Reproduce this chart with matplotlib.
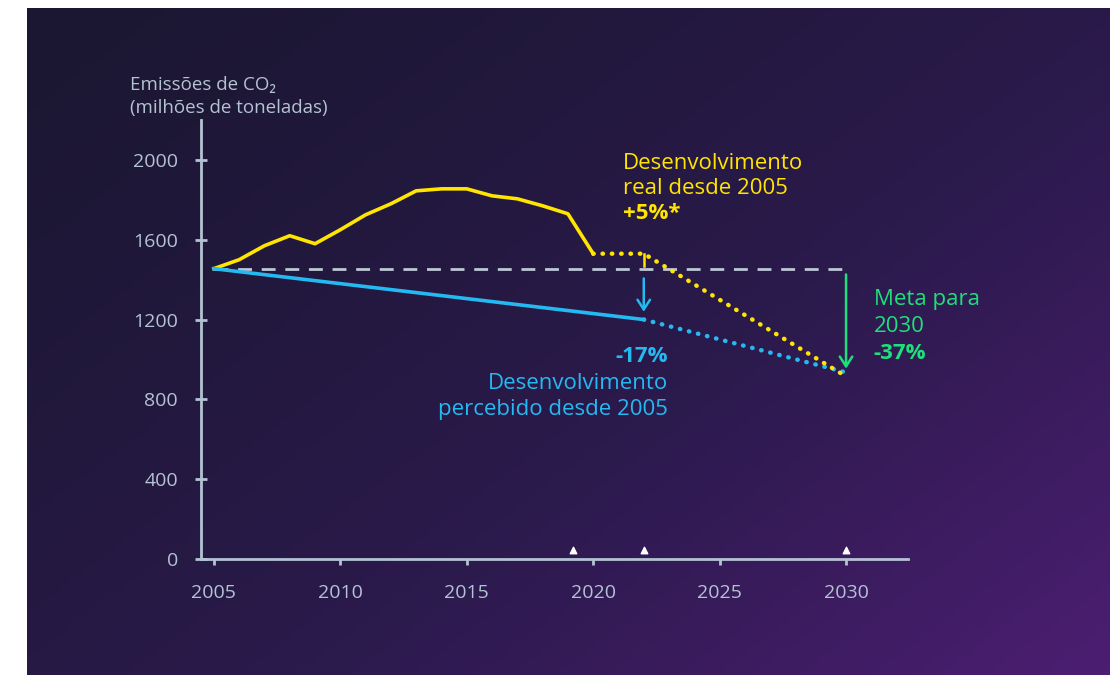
import numpy as np
import matplotlib.pyplot as plt
from matplotlib.colors import LinearSegmentedColormap

# data
years_real = [2005, 2006, 2007, 2008, 2009, 2010, 2011, 2012, 2013, 2014,
              2015, 2016, 2017, 2018, 2019, 2020]
real = [1455, 1500, 1570, 1620, 1580, 1650, 1725, 1780, 1845, 1855,
        1855, 1820, 1805, 1770, 1730, 1530]
real_proj_x = [2020, 2022, 2030]
real_proj = [1530, 1530, 915]

perc_x = [2005, 2022]
perc = [1455, 1200]
perc_proj_x = [2022, 2030]
perc_proj = [1200, 935]

base_x = [2005, 2030]
base = [1455, 1455]

marker_years = [2019.2, 2022, 2030]
yticks = [0, 400, 800, 1200, 1600, 2000]
xticks = [2005, 2010, 2015, 2020, 2025, 2030]

YEL = "#ffe500"
BLUE = "#25b9f2"
GREEN = "#1de07a"
AX = "#b4c3d3"

plt.rcParams['font.family'] = ['Open Sans', 'Noto Sans', 'DejaVu Sans']

fig = plt.figure(figsize=(11.1, 6.75), dpi=100)

# gradient background
bg = fig.add_axes([27 / 1110, 0, 1 - 27 / 1110, 1 - 8 / 675])
gx, gy = np.meshgrid(np.linspace(0, 1, 300), np.linspace(0, 1, 200))
grad = np.clip(0.55 * gx + 0.45 * gy, 0, 1) ** 1.3
cmap = LinearSegmentedColormap.from_list("bg", ["#1b1732", "#2b1a4c", "#4c1e72"])
bg.imshow(grad, cmap=cmap, aspect="auto", origin="upper", extent=[0, 1, 0, 1])
bg.axis("off")

ax = fig.add_axes([201 / 1110, 116 / 675, 707 / 1110, 439 / 675])
ax.patch.set_alpha(0)
ax.set_xlim(2004.49, 2032.45)
ax.set_ylim(0, 2200)

# lines
ax.plot(base_x, base, color="#bcc6d6", lw=2, dashes=(5, 3.5), zorder=2)
ax.plot(years_real, real, color=YEL, lw=2.6, solid_joinstyle="round", zorder=4)
ax.plot(real_proj_x, real_proj, color=YEL, lw=3.2, linestyle=(0, (0.1, 2.0)),
        dash_capstyle="round", zorder=4)
ax.plot(perc_x, perc, color=BLUE, lw=2.6, zorder=4)
ax.plot(perc_proj_x, perc_proj, color=BLUE, lw=3.2, linestyle=(0, (0.1, 2.0)),
        dash_capstyle="round", zorder=3)
ax.plot([2022, 2022], [1530, 1470], color=YEL, lw=1.8, zorder=3)

# arrows
ax.annotate("", xy=(2022, 1225), xytext=(2022, 1420),
            arrowprops=dict(arrowstyle="->,head_length=0.7,head_width=0.45",
                            color=BLUE, lw=1.8))
ax.annotate("", xy=(2030, 940), xytext=(2030, 1440),
            arrowprops=dict(arrowstyle="->,head_length=0.7,head_width=0.45",
                            color=GREEN, lw=1.8))

ax.scatter(marker_years, [45] * len(marker_years), marker="^", s=22,
           color="white", zorder=5, clip_on=False)

# annotations
ax.text(2021.18, 1980, "Desenvolvimento", color=YEL, fontsize=16, va="center", ha="left")
ax.text(2021.18, 1855, "real desde 2005", color=YEL, fontsize=16, va="center", ha="left")
ax.text(2021.18, 1730, "+5%*", color=YEL, fontsize=16, fontweight="bold", va="center", ha="left")

ax.text(2022.96, 1015, "-17%", color=BLUE, fontsize=16, fontweight="bold", va="center", ha="right")
ax.text(2022.96, 880, "Desenvolvimento", color=BLUE, fontsize=16, va="center", ha="right")
ax.text(2022.96, 750, "percebido desde 2005", color=BLUE, fontsize=16, va="center", ha="right")

ax.text(2031.1, 1300, "Meta para", color=GREEN, fontsize=16, va="center", ha="left", clip_on=False)
ax.text(2031.1, 1165, "2030", color=GREEN, fontsize=16, va="center", ha="left", clip_on=False)
ax.text(2031.1, 1030, "-37%", color=GREEN, fontsize=16, fontweight="bold", va="center", ha="left", clip_on=False)

ax.text(2001.68, 2375, "Emissões de CO₂", color=AX, fontsize=13.5, va="center", ha="left", clip_on=False)
ax.text(2001.68, 2260, "(milhões de toneladas)", color=AX, fontsize=13.5, va="center", ha="left", clip_on=False)

# axes styling
for s in ["top", "right"]:
    ax.spines[s].set_visible(False)
for s in ["left", "bottom"]:
    ax.spines[s].set_color(AX)
    ax.spines[s].set_linewidth(2)
ax.set_yticks(yticks)
ax.set_xticks(xticks)
ax.tick_params(axis="y", direction="inout", length=9, width=2, color=AX,
               labelcolor=AX, labelsize=14, pad=12)
ax.tick_params(axis="x", direction="out", length=4, width=2, color=AX,
               labelcolor=AX, labelsize=14, pad=14)

fig.savefig("out.png", dpi=100, facecolor="white")
